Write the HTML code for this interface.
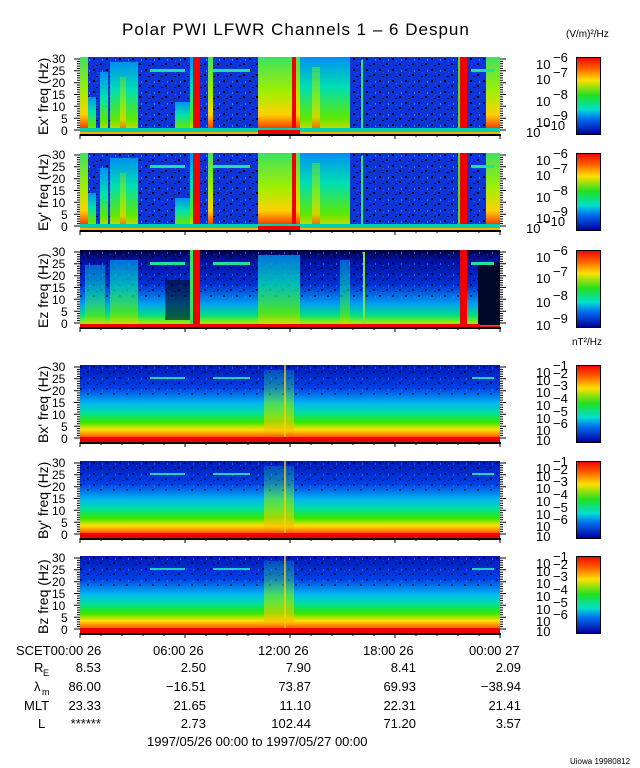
<!DOCTYPE html>
<html><head><meta charset="utf-8"><style>
body{margin:0;background:#fff;width:640px;height:768px;overflow:hidden}
svg{display:block}
text{font-family:"Liberation Sans",sans-serif;fill:#000}
</style></head><body>
<svg width="640" height="768" viewBox="0 0 640 768" xmlns="http://www.w3.org/2000/svg">
<defs>
<linearGradient id="gB" x1="0" y1="0" x2="0" y2="1">
<stop offset="0" stop-color="#0018b8"/><stop offset="0.3" stop-color="#0040e8"/><stop offset="0.5" stop-color="#00b8f0"/><stop offset="0.62" stop-color="#00e0a0"/><stop offset="0.74" stop-color="#30e800"/><stop offset="0.84" stop-color="#ffe000"/><stop offset="0.92" stop-color="#ff7000"/><stop offset="1" stop-color="#f00000"/>
</linearGradient>
<linearGradient id="gG" x1="0" y1="0" x2="0" y2="1">
<stop offset="0" stop-color="#40e060"/><stop offset="0.45" stop-color="#a0f000"/><stop offset="0.75" stop-color="#ffd000"/><stop offset="1" stop-color="#f00000"/>
</linearGradient>
<linearGradient id="gC" x1="0" y1="0" x2="0" y2="1">
<stop offset="0" stop-color="#0090f0"/><stop offset="0.4" stop-color="#00e0b0"/><stop offset="0.8" stop-color="#60e800"/><stop offset="1" stop-color="#ffd000"/>
</linearGradient>
<linearGradient id="gZ" x1="0" y1="0" x2="0" y2="1">
<stop offset="0" stop-color="#000040"/><stop offset="0.12" stop-color="#0010a0"/><stop offset="0.45" stop-color="#0030d8"/><stop offset="0.7" stop-color="#00a0f0"/><stop offset="0.85" stop-color="#00e080"/><stop offset="0.95" stop-color="#a0f000"/><stop offset="1" stop-color="#f00000"/>
</linearGradient>
<linearGradient id="gBurstB" x1="0" y1="0" x2="0" y2="1">
<stop offset="0" stop-color="#00d0d0" stop-opacity="0.3"/><stop offset="0.5" stop-color="#80f000" stop-opacity="0.8"/><stop offset="0.85" stop-color="#ffc000"/><stop offset="1" stop-color="#f00000"/>
</linearGradient>
<linearGradient id="gCB" x1="0" y1="0" x2="0" y2="1">
<stop offset="0" stop-color="#f00000"/><stop offset="0.15" stop-color="#ff6000"/><stop offset="0.3" stop-color="#ffe000"/><stop offset="0.5" stop-color="#20e020"/><stop offset="0.68" stop-color="#00e0d0"/><stop offset="0.8" stop-color="#0070f0"/><stop offset="1" stop-color="#0000a0"/>
</linearGradient>
<pattern id="spk" width="13" height="11" patternUnits="userSpaceOnUse">
<rect x="2" y="1" width="2" height="2" fill="#000"/><rect x="9" y="6" width="2" height="2" fill="#000"/><rect x="5" y="8" width="2" height="1" fill="#000820"/><rect x="11" y="2" width="1" height="2" fill="#4080ff"/><rect x="6" y="4" width="1" height="1" fill="#0070ff"/>
</pattern>
<path id="ftk" d="M74 73h6M77 70.6h3M77 68.3h3M77 65.9h3M77 63.5h3M74 61.2h6M77 58.8h3M77 56.4h3M77 54.1h3M77 51.7h3M74 49.3h6M77 47h3M77 44.6h3M77 42.2h3M77 39.9h3M74 37.5h6M77 35.1h3M77 32.8h3M77 30.4h3M77 28h3M74 25.7h6M77 23.3h3M77 20.9h3M77 18.6h3M77 16.2h3M74 13.8h6M77 11.5h3M77 9.1h3M77 6.7h3M77 4.4h3M74 2h6M500 73h6M500 70.6h3M500 68.3h3M500 65.9h3M500 63.5h3M500 61.2h6M500 58.8h3M500 56.4h3M500 54.1h3M500 51.7h3M500 49.3h6M500 47h3M500 44.6h3M500 42.2h3M500 39.9h3M500 37.5h6M500 35.1h3M500 32.8h3M500 30.4h3M500 28h3M500 25.7h6M500 23.3h3M500 20.9h3M500 18.6h3M500 16.2h3M500 13.8h6M500 11.5h3M500 9.1h3M500 6.7h3M500 4.4h3M500 2h6M80 77v5M101 77v3M122 77v3M143 77v3M164 77v3M185 77v5M206 77v3M227 77v3M248 77v3M269 77v3M290 77v5M311 77v3M332 77v3M353 77v3M374 77v3M395 77v5M416 77v3M437 77v3M458 77v3M479 77v3M500 77v5" stroke="#000" stroke-width="1"/>
<g id="axis">
<use href="#ftk"/>
<rect x="80" y="77" width="421" height="2" fill="#000"/>
<rect x="577" y="0" width="23" height="77" fill="url(#gCB)"/>
<rect x="576.5" y="0.5" width="24" height="77" fill="none" stroke="#000"/>
<g font-size="12"><text x="52" y="6">30</text><text x="52" y="18">25</text><text x="52" y="30">20</text><text x="52" y="42">15</text><text x="52" y="54">10</text><text x="61" y="66">5</text><text x="61" y="78">0</text></g>
</g>
<g id="eP">
<rect x="80" y="0" width="420" height="77" fill="#0c34d8"/>
<rect x="80" y="0" width="420" height="77" fill="url(#spk)"/>
<rect x="80" y="0" width="8" height="77" fill="url(#gG)"/>
<rect x="88" y="40" width="8" height="37" fill="url(#gC)"/>
<rect x="100" y="15" width="8" height="62" fill="url(#gC)"/>
<rect x="110" y="5" width="28" height="72" fill="url(#gC)"/>
<rect x="120" y="20" width="6" height="57" fill="url(#gG)" opacity="0.7"/>
<rect x="175" y="45" width="15" height="32" fill="url(#gC)"/>
<rect x="190" y="0" width="3" height="77" fill="url(#gC)"/>
<rect x="193" y="0" width="7" height="77" fill="#f00000"/>
<rect x="208" y="0" width="5" height="77" fill="url(#gG)"/>
<rect x="258" y="0" width="42" height="77" fill="url(#gG)"/>
<rect x="292" y="0" width="4" height="77" fill="#f00000"/>
<rect x="300" y="0" width="50" height="77" fill="url(#gC)"/>
<rect x="312" y="10" width="8" height="67" fill="url(#gG)" opacity="0.7"/>
<rect x="361" y="3" width="2" height="74" fill="#30e080"/>
<rect x="460" y="0" width="7" height="77" fill="#f00000"/>
<rect x="458" y="0" width="2" height="77" fill="#60e000"/>
<rect x="486" y="0" width="14" height="77" fill="url(#gG)"/>
<rect x="80" y="71" width="420" height="4" fill="#00d0b0"/>
<rect x="80" y="75" width="420" height="2" fill="#ffb000"/>
<rect x="258" y="73" width="42" height="4" fill="#f00000"/>
<rect x="150" y="12" width="35" height="3" fill="#20e0a0"/>
<rect x="213" y="12" width="37" height="3" fill="#20e0a0"/>
<rect x="471" y="12" width="23" height="3" fill="#20e0a0"/>
</g>
<g id="bP">
<rect x="80" y="0" width="420" height="77" fill="url(#gB)"/>
<rect x="80" y="0" width="420" height="30" fill="url(#spk)" opacity="0.6"/>
<rect x="264" y="5" width="30" height="72" fill="url(#gBurstB)" opacity="0.8"/>
<rect x="284" y="0" width="2" height="77" fill="#ffd000" opacity="0.7"/>
<rect x="80" y="72" width="420" height="5" fill="#f00000"/>
<rect x="150" y="12" width="35" height="2" fill="#20d0c0"/>
<rect x="213" y="12" width="37" height="2" fill="#20d0c0"/>
<rect x="472" y="12" width="22" height="2" fill="#20d0c0"/>
</g>
</defs>

<text x="122" y="35" font-size="17" letter-spacing="1">Polar PWI LFWR Channels 1 – 6 Despun</text>
<text x="566" y="37" font-size="10">(V/m)²/Hz</text>
<text x="572" y="345" font-size="10">nT²/Hz</text>

<g transform="translate(0,57)"><use href="#eP"/><use href="#axis"/>
<g font-size="13"><text x="536" y="12">10</text><text x="553" y="5">−6</text><text x="536" y="27">10</text><text x="553" y="20">−7</text><text x="536" y="49">10</text><text x="553" y="42">−8</text><text x="536" y="70">10</text><text x="553" y="63">−9</text><text x="526" y="80">10</text><text x="543" y="73">−10</text></g>
<text transform="translate(48,78) rotate(-90)" font-size="14">Ex' freq (Hz)</text></g>

<g transform="translate(0,153)"><use href="#eP"/><use href="#axis"/>
<g font-size="13"><text x="536" y="12">10</text><text x="553" y="5">−6</text><text x="536" y="27">10</text><text x="553" y="20">−7</text><text x="536" y="49">10</text><text x="553" y="42">−8</text><text x="536" y="70">10</text><text x="553" y="63">−9</text><text x="526" y="80">10</text><text x="543" y="73">−10</text></g>
<text transform="translate(48,78) rotate(-90)" font-size="14">Ey' freq (Hz)</text></g>

<g transform="translate(0,250)">
<rect x="80" y="0" width="420" height="77" fill="url(#gZ)"/>
<rect x="80" y="0" width="420" height="50" fill="url(#spk)" opacity="0.7"/>
<rect x="85" y="15" width="20" height="62" fill="url(#gC)" opacity="0.6"/>
<rect x="110" y="10" width="28" height="67" fill="url(#gC)" opacity="0.75"/>
<rect x="165" y="30" width="30" height="40" fill="#000820" opacity="0.6"/>
<rect x="193" y="0" width="7" height="77" fill="#f00000"/>
<rect x="190" y="0" width="3" height="77" fill="#40e060"/>
<rect x="258" y="5" width="42" height="72" fill="url(#gC)" opacity="0.8"/>
<rect x="340" y="10" width="10" height="67" fill="url(#gC)" opacity="0.6"/>
<rect x="363" y="2" width="2" height="75" fill="#80e040"/>
<rect x="460" y="0" width="7" height="77" fill="#f00000"/>
<rect x="478" y="12" width="22" height="63" fill="#000828"/>
<rect x="80" y="74" width="400" height="3" fill="#f00000"/>
<rect x="150" y="12" width="35" height="3" fill="#20e0a0"/>
<rect x="213" y="12" width="37" height="3" fill="#20e0a0"/>
<rect x="471" y="12" width="23" height="3" fill="#20e0a0"/>
<use href="#axis"/>
<g font-size="13"><text x="536" y="12">10</text><text x="553" y="5">−6</text><text x="536" y="33">10</text><text x="553" y="26">−7</text><text x="536" y="57">10</text><text x="553" y="50">−8</text><text x="536" y="80">10</text><text x="553" y="73">−9</text></g>
<text transform="translate(48,78) rotate(-90)" font-size="14">Ez freq (Hz)</text></g>

<g transform="translate(0,365)"><use href="#bP"/><use href="#axis"/>
<g font-size="13"><text x="536" y="12">10</text><text x="553" y="5">−1</text><text x="536" y="20">10</text><text x="553" y="13">−2</text><text x="536" y="32">10</text><text x="553" y="25">−3</text><text x="536" y="45">10</text><text x="553" y="38">−4</text><text x="536" y="58">10</text><text x="553" y="51">−5</text><text x="536" y="70">10</text><text x="553" y="63">−6</text><text x="536" y="80">10</text></g>
<text transform="translate(48,78) rotate(-90)" font-size="14">Bx' freq (Hz)</text></g>

<g transform="translate(0,461)"><use href="#bP"/><use href="#axis"/>
<g font-size="13"><text x="536" y="12">10</text><text x="553" y="5">−1</text><text x="536" y="20">10</text><text x="553" y="13">−2</text><text x="536" y="32">10</text><text x="553" y="25">−3</text><text x="536" y="45">10</text><text x="553" y="38">−4</text><text x="536" y="58">10</text><text x="553" y="51">−5</text><text x="536" y="70">10</text><text x="553" y="63">−6</text><text x="536" y="80">10</text></g>
<text transform="translate(48,78) rotate(-90)" font-size="14">By' freq (Hz)</text></g>

<g transform="translate(0,556)"><use href="#bP"/><use href="#axis"/>
<g font-size="13"><text x="536" y="12">10</text><text x="553" y="5">−1</text><text x="536" y="20">10</text><text x="553" y="13">−2</text><text x="536" y="32">10</text><text x="553" y="25">−3</text><text x="536" y="45">10</text><text x="553" y="38">−4</text><text x="536" y="58">10</text><text x="553" y="51">−5</text><text x="536" y="70">10</text><text x="553" y="63">−6</text><text x="536" y="80">10</text></g>
<text transform="translate(48,78) rotate(-90)" font-size="14">Bz freq (Hz)</text></g>

<g font-size="13">
<text x="16" y="655">SCET00:00 26</text><text x="153" y="655">06:00 26</text><text x="258" y="655">12:00 26</text><text x="363" y="655">18:00 26</text><text x="469" y="655">00:00 27</text>
<text x="34" y="672">R</text><text x="43" y="676" font-size="9">E</text>
<text x="34" y="691">λ</text><text x="42" y="695" font-size="9">m</text>
<text x="24" y="710">MLT</text><text x="38" y="728">L</text>
<g text-anchor="end">
<text x="101" y="672">8.53</text><text x="101" y="691">86.00</text><text x="101" y="710">23.33</text><text x="101" y="728">******</text>
<text x="206" y="672">2.50</text><text x="206" y="691">−16.51</text><text x="206" y="710">21.65</text><text x="206" y="728">2.73</text>
<text x="311" y="672">7.90</text><text x="311" y="691">73.87</text><text x="311" y="710">11.10</text><text x="311" y="728">102.44</text>
<text x="416" y="672">8.41</text><text x="416" y="691">69.93</text><text x="416" y="710">22.31</text><text x="416" y="728">71.20</text>
<text x="521" y="672">2.09</text><text x="521" y="691">−38.94</text><text x="521" y="710">21.41</text><text x="521" y="728">3.57</text>
</g>
<text x="147" y="746">1997/05/26 00:00 to 1997/05/27 00:00</text>
</g>
<text x="570" y="764" font-size="8">Uiowa 19980812</text>
</svg>
</body></html>
